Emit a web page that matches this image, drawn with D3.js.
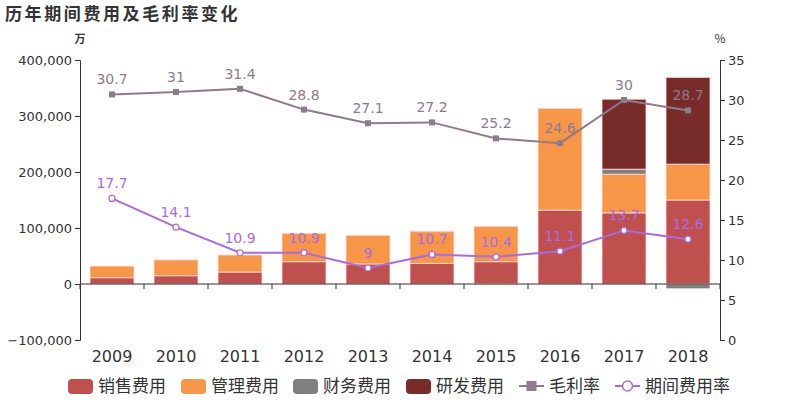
<!DOCTYPE html>
<html><head><meta charset="utf-8">
<script src="https://cdn.jsdelivr.net/npm/d3@7"></script>
<style>body{margin:0;background:#fff}svg{display:block;font-family:"Noto Sans CJK SC","DejaVu Sans",sans-serif}</style>
</head><body><svg id="c" width="800" height="400"></svg>
<script>
const years = ["2009","2010","2011","2012","2013","2014","2015","2016","2017","2018"];
const sales = [11200, 14800, 21400, 39800, 35800, 36900, 39800, 132000, 127000, 150000];
const mgmt = [20800, 28200, 30400, 50700, 51100, 56700, 63200, 181700, 69000, 64000];
const finance = [0, 0, 0, 0, 0, 0, -500, 0, 9000, -8400];
const rd = [0, 0, 0, 0, 0, 1000, 0, 0, 125000, 155000];
const grossMargin = [30.7, 31, 31.4, 28.8, 27.1, 27.2, 25.2, 24.6, 30, 28.7];
const periodRate = [17.7, 14.1, 10.9, 10.9, 9, 10.7, 10.4, 11.1, 13.7, 12.6];
const leftTicks = [-100000, 0, 100000, 200000, 300000, 400000];
const rightTicks = [0, 5, 10, 15, 20, 25, 30, 35];
const seriesNames = ["销售费用", "管理费用", "财务费用", "研发费用"];
const lineNames = ["毛利率", "期间费用率"];
const colors = ["#c0504d", "#f79646", "#7f7f7f", "#772c2a"];
const lineColors = ["#8e7b8e", "#a96ae8"];

const svg = d3.select("#c");
const L = 80, R = 720, T = 60, B = 340;
const x = d3.scaleBand().domain(years).range([L, R]);
const yL = d3.scaleLinear().domain([-100000, 400000]).range([B, T]);
const yR = d3.scaleLinear().domain([0, 35]).range([B, T]);
const txt = "#333";

svg.append("text").attr("x", 5).attr("y", 20).text("历年期间费用及毛利率变化")
  .attr("font-size", 17).attr("font-weight", "bold").attr("fill", "#333").attr("letter-spacing", 2.6);
svg.append("text").attr("x", 80).attr("y", 43).attr("text-anchor", "middle").text("万")
  .attr("font-size", 11).attr("font-weight", "bold").attr("fill", txt);
svg.append("text").attr("x", 720).attr("y", 43).attr("text-anchor", "middle").text("%")
  .attr("font-size", 12).attr("fill", txt);

// axes
const ax = g => { g.selectAll("path,line").attr("stroke", "#333"); g.selectAll("text").attr("fill", txt).attr("font-family", "DejaVu Sans").attr("font-size", 13); };
svg.append("g").attr("transform", `translate(${L},0)`)
  .call(d3.axisLeft(yL).tickValues(leftTicks).tickFormat(d3.format(",")).tickSizeOuter(0).tickSize(5)).call(ax);
svg.append("g").attr("transform", `translate(${R},0)`)
  .call(d3.axisRight(yR).tickValues(rightTicks).tickSizeOuter(0).tickSize(5)).call(ax);

// bars
const rows = years.map((y, i) => ({year: y, s0: sales[i], s1: mgmt[i], s2: finance[i], s3: rd[i]}));
const stack = d3.stack().keys(["s0", "s1", "s2", "s3"]).offset(d3.stackOffsetDiverging);
const layers = stack(rows);
const bw = 44;
svg.append("g").selectAll("g").data(layers).join("g").attr("fill", (d, i) => colors[i])
  .selectAll("rect").data(d => d.filter(p => p[1] !== p[0])).join("rect")
  .attr("x", d => x(d.data.year) + x.bandwidth() / 2 - bw / 2).attr("width", bw)
  .attr("y", d => yL(Math.max(d[0], d[1]))).attr("height", d => Math.abs(yL(d[0]) - yL(d[1])))
  .attr("stroke", "rgba(255,225,225,0.8)").attr("stroke-width", 1);

// x axis at zero
const xa = svg.append("g").attr("transform", `translate(0,${yL(0)})`);
xa.append("line").attr("x1", L).attr("x2", R).attr("stroke", "#333");
xa.selectAll(".tk").data(d3.range(years.length + 1)).join("line")
  .attr("x1", i => L + i * x.step()).attr("x2", i => L + i * x.step()).attr("y1", 0).attr("y2", 5).attr("stroke", "#333");
svg.append("g").selectAll("text").data(years).join("text")
  .attr("x", d => x(d) + x.bandwidth() / 2).attr("y", 362).attr("text-anchor", "middle")
  .attr("font-family", "DejaVu Sans").attr("font-size", 16).attr("fill", txt).text(d => d);

// lines
const cx = i => x(years[i]) + x.bandwidth() / 2;
function drawLine(vals, color, marker) {
  const g = svg.append("g");
  g.append("path").datum(vals).attr("fill", "none").attr("stroke", color).attr("stroke-width", 2)
    .attr("d", d3.line().x((d, i) => cx(i)).y(d => yR(d)));
  if (marker === "square") {
    g.selectAll("rect").data(vals).join("rect").attr("x", (d, i) => cx(i) - 3).attr("y", d => yR(d) - 3)
      .attr("width", 6).attr("height", 6).attr("fill", color);
  } else {
    g.selectAll("circle").data(vals).join("circle").attr("cx", (d, i) => cx(i)).attr("cy", d => yR(d))
      .attr("r", 3).attr("fill", "#fff").attr("stroke", color).attr("stroke-width", 1.2);
  }
  g.selectAll("text").data(vals).join("text").attr("x", (d, i) => cx(i)).attr("y", d => yR(d) - 10)
    .attr("text-anchor", "middle").attr("font-family", "DejaVu Sans").attr("font-size", 14).attr("fill", color).text(d => d);
}
drawLine(grossMargin, lineColors[0], "square");
drawLine(periodRate, lineColors[1], "circle");

// legend
const lg = svg.append("g").attr("font-size", 17).attr("fill", txt);
const ly = 386;
const barLeg = [68, 181, 293, 406];
seriesNames.forEach((n, i) => {
  lg.append("rect").attr("x", barLeg[i]).attr("y", ly - 7).attr("width", 25).attr("height", 15).attr("rx", 4).attr("fill", colors[i]);
  lg.append("text").attr("x", barLeg[i] + 30).attr("y", ly + 6).text(n).attr("fill", txt);
});
const lineLeg = [519, 615];
lineNames.forEach((n, i) => {
  const x0 = lineLeg[i];
  lg.append("line").attr("x1", x0).attr("x2", x0 + 25).attr("y1", ly).attr("y2", ly).attr("stroke", lineColors[i]).attr("stroke-width", 2);
  if (i === 0) lg.append("rect").attr("x", x0 + 7.5).attr("y", ly - 5).attr("width", 10).attr("height", 10).attr("fill", lineColors[i]);
  else lg.append("circle").attr("cx", x0 + 12.5).attr("cy", ly).attr("r", 5).attr("fill", "#fff").attr("stroke", lineColors[i]).attr("stroke-width", 1.5);
  lg.append("text").attr("x", x0 + 30).attr("y", ly + 6).text(n).attr("fill", txt);
});
</script></body></html>
